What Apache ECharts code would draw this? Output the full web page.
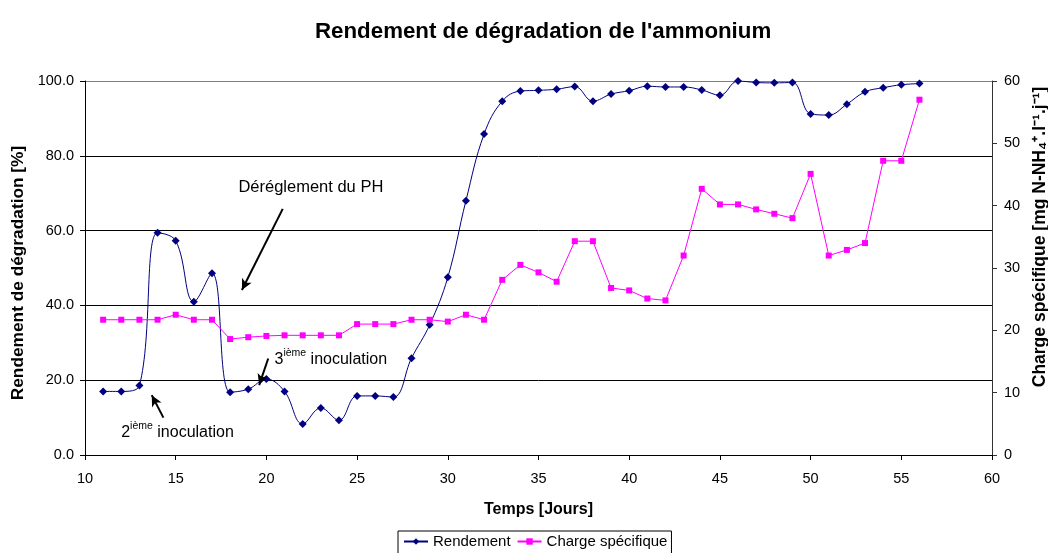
<!DOCTYPE html>
<html>
<head>
<meta charset="utf-8">
<script src="https://cdn.jsdelivr.net/npm/echarts@6/dist/echarts.min.js"></script>
<style>
  html, body { margin: 0; padding: 0; background: #fff; }
  #chart { width: 1048px; height: 553px; }
</style>
</head>
<body>
<div id="chart"></div>
<script>
// jours
var days = [11, 12, 13, 14, 15, 16, 17, 18, 19, 20, 21, 22, 23, 24, 25, 26, 27, 28, 29, 30,
  31, 32, 33, 34, 35, 36, 37, 38, 39, 40, 41, 42, 43, 44, 45, 46, 47, 48, 49, 50,
  51, 52, 53, 54, 55, 56]
// rendement de dégradation [%]
var rendement = [17.0, 17.0, 18.6, 59.4, 57.3, 41.0, 48.6, 16.8, 17.6, 20.3, 17.0, 8.3, 12.6, 9.3, 15.8, 15.8, 15.5, 25.9, 34.8, 47.5,
  68.0, 85.8, 94.6, 97.3, 97.5, 97.8, 98.5, 94.6, 96.5, 97.4, 98.6, 98.4, 98.4, 97.6, 96.2, 100.0, 99.6, 99.5, 99.6, 91.2,
  90.9, 93.8, 97.1, 98.2, 99.0, 99.3]
// charge spécifique [mg N-NH4+.l-1.j-1]
var charge = [21.7, 21.7, 21.7, 21.7, 22.5, 21.7, 21.7, 18.6, 18.9, 19.1, 19.2, 19.2, 19.2, 19.2, 21.0, 21.0, 21.0, 21.7, 21.7, 21.4,
  22.5, 21.7, 28.1, 30.5, 29.3, 27.8, 34.3, 34.3, 26.8, 26.4, 25.1, 24.8, 32.0, 42.7, 40.2, 40.2, 39.4, 38.7, 38.0, 45.1,
  32.0, 32.9, 34.0, 47.2, 47.2, 57.0]

var chart = echarts.init(document.getElementById('chart'))

var font = 'Liberation Sans, Arial, sans-serif'
var inocRich = {
  n: { fontSize: 16, lineHeight: 20, color: '#000', fontFamily: font, verticalAlign: 'bottom' },
  sup: { fontSize: 10.5, lineHeight: 20, color: '#000', fontFamily: font, verticalAlign: 'top' }
}

chart.setOption({
  backgroundColor: '#fff',
  animation: false,
  title: {
    text: "Rendement de dégradation de l'ammonium",
    left: 310,
    top: 16,
    textStyle: { fontFamily: font, fontSize: 22.3, fontWeight: 'bold', color: '#000' }
  },
  legend: {
    top: 531,
    left: 398,
    itemWidth: 24,
    itemHeight: 8,
    itemGap: 6,
    padding: [3, 4, 6, 5],
    borderColor: '#000',
    borderWidth: 1,
    borderRadius: 0,
    textStyle: { fontFamily: font, fontSize: 15, color: '#000' },
    data: ['Rendement', 'Charge spécifique']
  },
  grid: { left: 85, right: 56, top: 81, bottom: 98, outerBoundsMode: 'none', containLabel: false },
  xAxis: {
    type: 'value',
    min: 10,
    max: 60,
    interval: 5,
    name: 'Temps [Jours]',
    nameLocation: 'middle',
    nameGap: 47,
    nameTextStyle: { fontFamily: font, fontSize: 16, fontWeight: 'bold', color: '#000' },
    axisLine: { lineStyle: { color: '#000', width: 1 } },
    axisTick: { lineStyle: { color: '#000' }, length: 5 },
    axisLabel: { fontFamily: font, fontSize: 14.5, color: '#000', margin: 16 },
    splitLine: { show: false }
  },
  yAxis: [{
    type: 'value',
    min: 0,
    max: 100,
    interval: 20,
    name: 'Rendement de dégradation [%]',
    nameLocation: 'middle',
    nameGap: 56,
    nameTextStyle: { fontFamily: font, fontSize: 17.3, fontWeight: 'bold', color: '#000', padding: [0, 10, 0, 0] },
    axisLine: { show: true, lineStyle: { color: '#000' } },
    axisTick: { show: true, lineStyle: { color: '#000' }, length: 5 },
    axisLabel: { fontFamily: font, fontSize: 14.5, color: '#000', margin: 11, formatter: function (v) { return v.toFixed(1) } },
    splitLine: { show: true, lineStyle: { color: ['#000', '#000', '#000', '#000', '#000', '#808080'], width: 1 } }
  }, {
    type: 'value',
    min: 0,
    max: 60,
    interval: 10,
    position: 'right',
    name: 'Charge spécifique [mg N-NH₄⁺.l⁻¹.j⁻¹]',
    nameLocation: 'middle',
    nameGap: 38,
    nameRotate: 90,
    nameTextStyle: { fontFamily: font, fontSize: 17.5, fontWeight: 'bold', color: '#000', padding: [0, 0, 0, 62] },
    axisLine: { show: true, lineStyle: { color: '#333' } },
    axisTick: { show: true, lineStyle: { color: '#333' }, length: 5 },
    axisLabel: { fontFamily: font, fontSize: 14.5, color: '#000', margin: 12 },
    splitLine: { show: false }
  }],
  series: [{
    name: 'Rendement',
    type: 'line',
    yAxisIndex: 0,
    smooth: 0.4,
    symbol: 'diamond',
    symbolSize: 8,
    itemStyle: { color: '#000080' },
    lineStyle: { color: '#000080', width: 1 },
    data: days.map(function (d, i) { return [d, rendement[i]] }),
    markLine: {
      silent: true,
      symbol: ['none', 'arrow'],
      symbolSize: [8, 11],
      label: { show: false },
      lineStyle: { color: '#000', width: 2, type: 'solid' },
      data: [
        [{ coord: [20.9, 65.8] }, { coord: [18.65, 44.1] }],
        [{ coord: [20.1, 25.8] }, { coord: [19.6, 18.7] }],
        [{ coord: [14.32, 10.0] }, { coord: [13.68, 16.0] }]
      ]
    },
    markPoint: {
      silent: true,
      symbol: 'circle',
      symbolSize: 0,
      data: [{
        coord: [22.45, 71.5],
        label: { show: true, position: 'inside', formatter: 'Déréglement du PH', fontFamily: font, fontSize: 16.5, color: '#000' }
      }, {
        coord: [23.55, 26.0],
        label: { show: true, position: 'inside', formatter: '{n|3}{sup|ième}{n| inoculation}', rich: inocRich }
      }, {
        coord: [15.1, 6.4],
        label: { show: true, position: 'inside', formatter: '{n|2}{sup|ième}{n| inoculation}', rich: inocRich }
      }]
    }
  }, {
    name: 'Charge spécifique',
    type: 'line',
    yAxisIndex: 1,
    symbol: 'rect',
    symbolSize: 6,
    itemStyle: { color: '#FF00FF' },
    lineStyle: { color: '#FF00FF', width: 1 },
    data: days.map(function (d, i) { return [d, charge[i]] })
  }]
})
</script>
</body>
</html>
